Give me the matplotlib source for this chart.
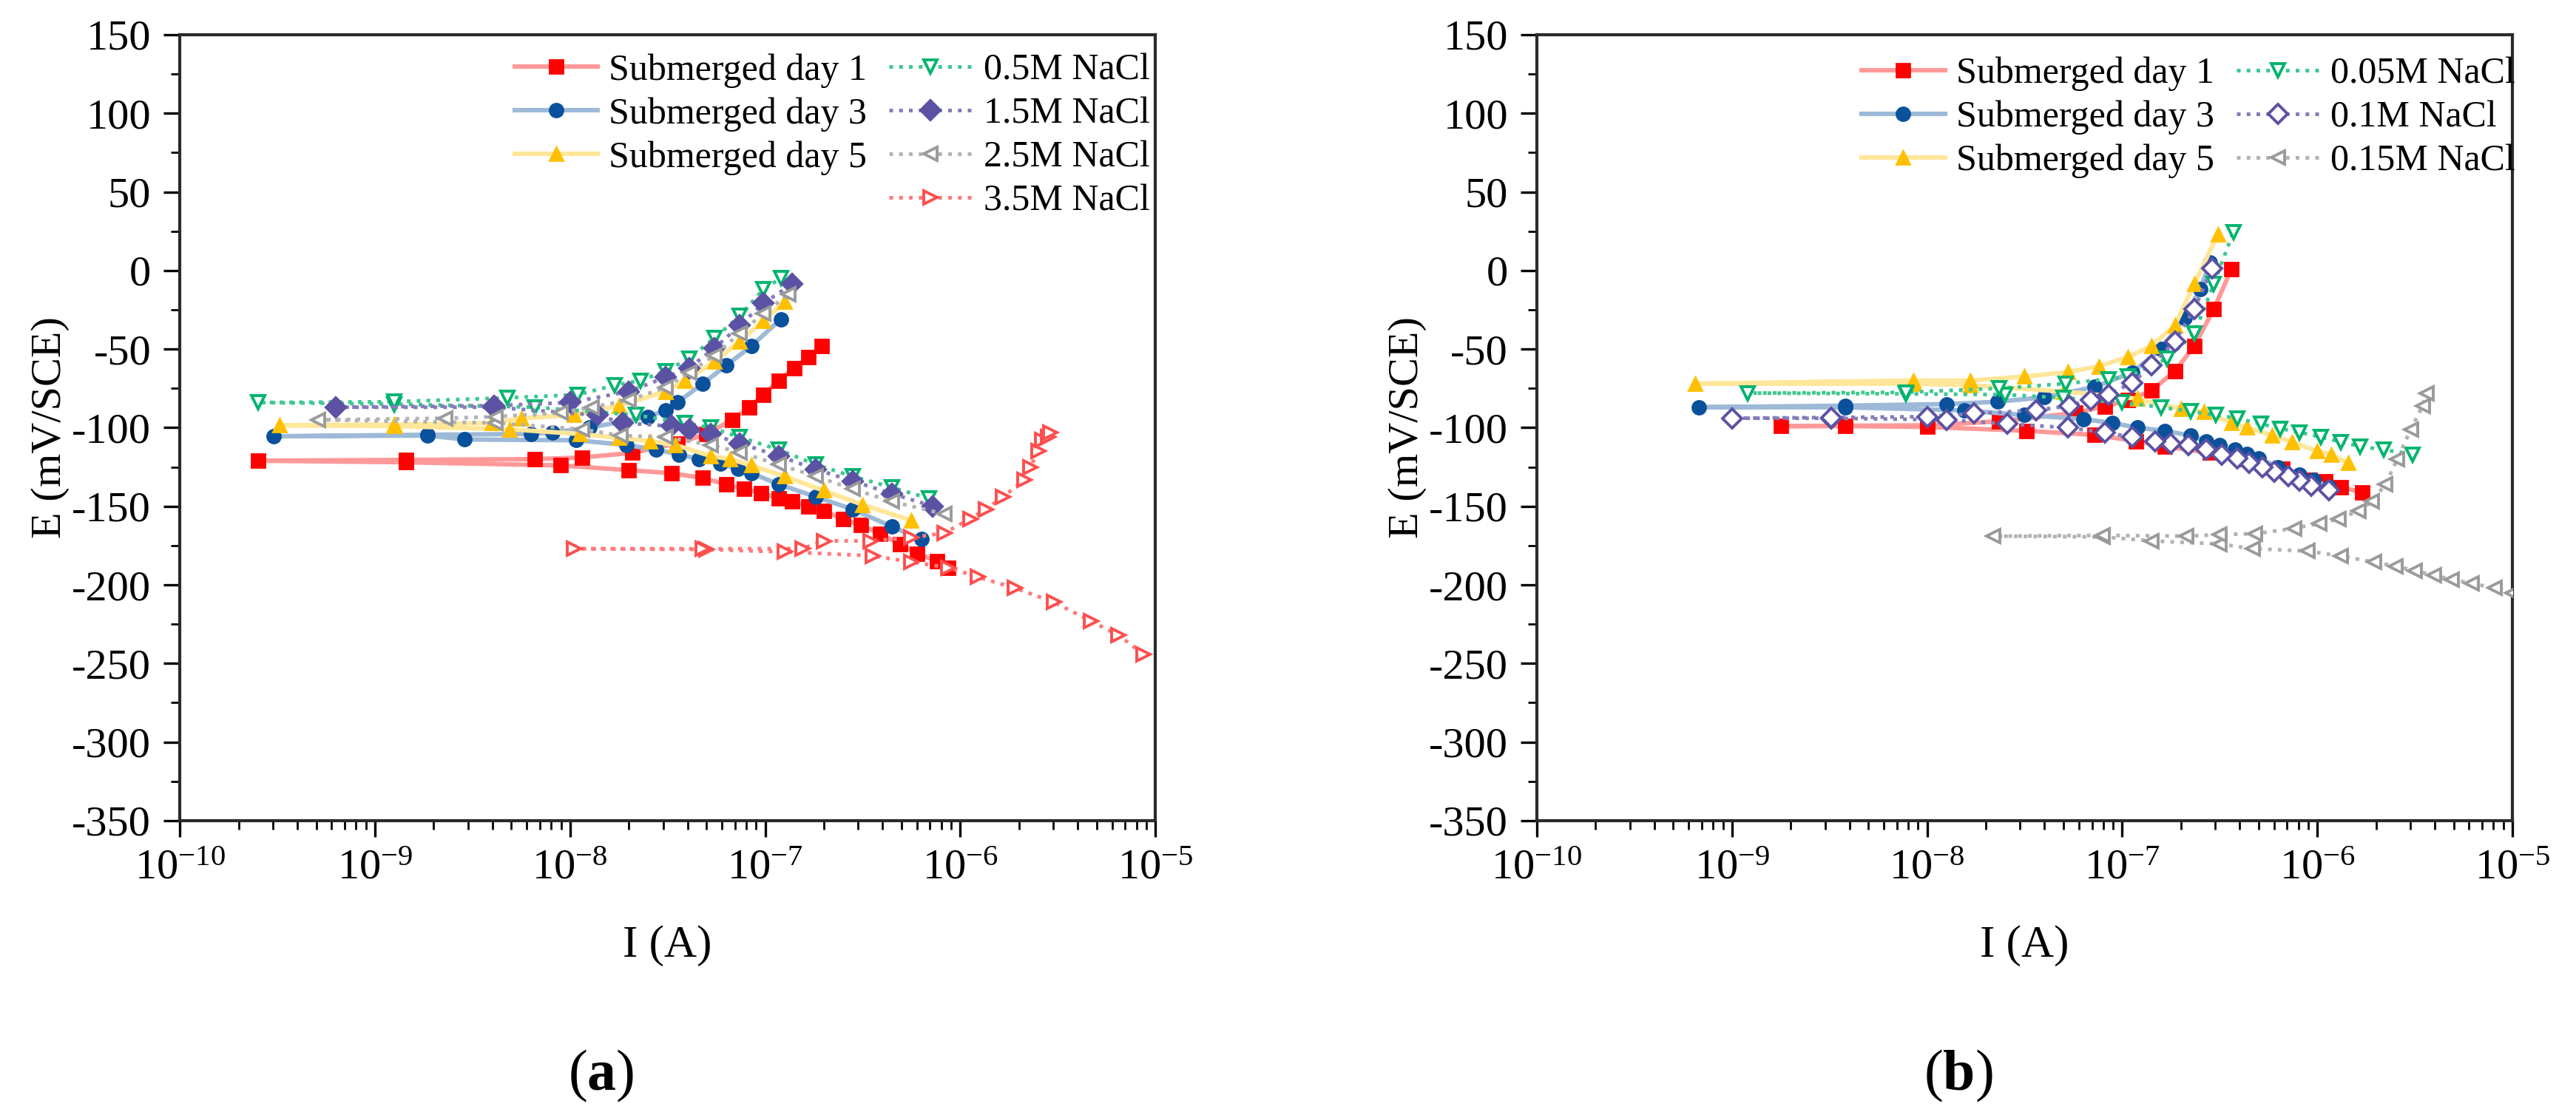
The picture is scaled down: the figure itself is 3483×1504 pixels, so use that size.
#!/usr/bin/env python
"""
Tafel curves: submerged days vs NaCl concentration, panels (a) and (b)
"""
import numpy as np
import matplotlib
matplotlib.use("Agg")
import matplotlib.pyplot as plt
from matplotlib import colors
from matplotlib.lines import Line2D
from matplotlib.ticker import MultipleLocator, LogLocator, NullFormatter

# each curve runs from the cathodic end, through Ecorr (left tip), up the
# anodic branch.  log10(I / A) and E (mV/SCE)

# ---- panel (a) ----
day1_a_logI = [-6.06, -6.12, -6.22, -6.31, -6.41, -6.51, -6.60, -6.70, -6.78,
               -6.86, -6.93, -7.02, -7.11, -7.20, -7.32, -7.48, -7.70, -8.05,
               -8.84, -9.60, -8.84, -8.18, -7.94, -7.68, -7.45, -7.30, -7.17,
               -7.08, -7.01, -6.93, -6.85, -6.78, -6.71]
day1_a_E = [-189, -185, -180, -174, -167.5, -162, -158, -153, -150,
            -147, -145, -141.5, -139, -136, -132, -129, -127, -124,
            -122, -121, -120.5, -120, -119, -116, -110, -104, -95,
            -87, -79, -70, -62, -55, -48]

day3_a_logI = [-6.20, -6.35, -6.55, -6.74, -6.93, -7.07, -7.14, -7.23, -7.34,
               -7.44, -7.56, -7.71, -7.97, -8.54, -8.73, -9.52, -8.73, -8.20,
               -8.09, -7.90, -7.60, -7.51, -7.45, -7.32, -7.20, -7.07, -6.92]
day3_a_E = [-171, -163, -152, -144, -136, -129, -126, -123, -120,
            -117, -114, -111, -108, -107.5, -105, -105.5, -104.5, -104,
            -103, -100, -93, -89, -84, -72, -60.5, -48, -31]

day5_a_logI = [-6.25, -6.50, -6.70, -6.90, -7.07, -7.18, -7.28, -7.46, -7.59,
               -7.75, -7.95, -8.31, -8.90, -9.49, -8.90, -8.40, -8.25, -7.98,
               -7.75, -7.51, -7.41, -7.26, -7.13, -7.01, -6.90]
day5_a_E = [-159, -149, -140, -131, -124, -120, -118, -111, -108.5,
            -106.5, -104, -101, -99, -98.5, -98, -97, -94, -92,
            -86, -77, -70, -58, -45, -32, -20]

nacl05_logI = [-6.16, -6.35, -6.55, -6.74, -6.93, -7.13, -7.28, -7.41, -7.66,
               -8.18, -8.90, -9.60, -8.90, -8.32, -7.96, -7.77, -7.64, -7.51,
               -7.39, -7.26, -7.13, -7.01, -6.92]
nacl05_E = [-145, -138, -131, -123.5, -114, -106, -100, -97, -92,
            -87, -85, -84, -83.5, -81, -79, -73, -70, -64,
            -56, -43, -29, -12, -5]

nacl15_logI = [-6.14, -6.35, -6.55, -6.74, -6.93, -7.13, -7.28, -7.39, -7.48,
               -7.73, -7.86, -8.39, -9.20, -8.39, -8.00, -7.70, -7.51, -7.39,
               -7.26, -7.13, -7.01, -6.86]
nacl15_E = [-150, -142, -134, -126.5, -118, -110, -104, -101, -99,
            -97, -92, -87, -87, -86, -84, -77, -68, -62,
            -49.5, -35, -21, -8.5]

nacl25_logI = [-6.08, -6.35, -6.55, -6.74, -6.93, -7.13, -7.28, -7.51, -7.74,
               -7.94, -8.38, -9.29, -8.64, -8.38, -8.05, -7.89, -7.70, -7.51,
               -7.39, -7.26, -7.13, -7.01, -6.88]
nacl25_E = [-155, -147, -139, -131, -123.5, -115.6, -111, -106, -105,
            -101, -97, -95, -94, -93, -90.5, -87, -82.5, -74.5,
            -65, -54, -40, -27.5, -15]

nacl35_logI = [-5.06, -5.19, -5.33, -5.52, -5.72, -5.91, -6.06, -6.25, -6.45,
               -6.90, -7.30, -7.98, -7.32, -6.81, -6.70, -6.46, -6.25, -6.08,
               -5.95, -5.87, -5.78, -5.67, -5.64, -5.60, -5.58, -5.55, -5.54]
nacl35_E = [-244, -232, -223, -211, -202, -195, -189, -185.5, -181.5,
            -179, -177.5, -177, -177, -177, -172, -172, -170, -167,
            -158, -152, -144, -133, -125, -115, -108, -106, -103]

# ---- panel (b) ----
day1_b_logI = [-5.77, -5.88, -5.96, -6.04, -6.18, -6.36, -6.55, -6.78, -6.93,
               -7.14, -7.49, -8.00, -8.42, -8.75, -8.00, -7.63, -7.24, -7.09,
               -6.97, -6.85, -6.73, -6.63, -6.53, -6.44]
day1_b_E = [-141, -138, -134, -133, -126, -120, -116, -112, -108.5,
            -104.6, -102, -99.5, -99, -99, -98.5, -96, -90.6, -86.5,
            -82.5, -76.5, -64, -48, -24.5, 1]

day3_b_logI = [-5.94, -6.02, -6.09, -6.20, -6.30, -6.36, -6.42, -6.50, -6.57,
               -6.65, -6.78, -6.92, -7.05, -7.20, -7.50, -7.81, -8.42, -9.17,
               -8.42, -7.90, -7.64, -7.40, -7.14, -6.95, -6.80, -6.68, -6.60,
               -6.55]
day3_b_E = [-138, -133, -130, -125, -119.5, -116.5, -114, -111, -108.5,
            -105, -102, -100, -97, -94.5, -92, -89, -87, -87,
            -86, -85, -83.5, -80.7, -74, -65, -50, -30, -12,
            5]

day5_b_logI = [-5.84, -5.93, -6.00, -6.13, -6.23, -6.36, -6.44, -6.58, -6.70,
               -6.92, -7.30, -7.78, -8.07, -9.19, -8.07, -7.78, -7.50, -7.28,
               -7.12, -6.97, -6.85, -6.73, -6.63, -6.51]
day5_b_E = [-122.6, -117, -115, -109, -105, -100, -97, -90, -88,
            -81.6, -77, -73, -72, -72, -70, -70, -67.5, -64.6,
            -61, -55, -48, -35, -8.6, 23]

nacl005_logI = [-5.51, -5.66, -5.78, -5.88, -5.98, -6.09, -6.19, -6.29, -6.41,
                -6.52, -6.65, -6.80, -7.00, -7.30, -7.60, -8.11, -8.92, -8.11,
                -7.63, -7.29, -7.07, -6.97, -6.77, -6.63, -6.53, -6.43]
nacl005_E = [-117, -114, -112, -109, -106, -103, -100.5, -97.6, -94,
             -92, -89.6, -87, -84, -81, -79, -78.5, -78, -77.5,
             -75, -72, -69, -67.5, -56, -40, -8.6, 24.5]

nacl01_logI = [-5.94, -6.03, -6.09, -6.15, -6.22, -6.28, -6.35, -6.41, -6.49,
               -6.57, -6.66, -6.75, -6.83, -6.95, -7.09, -7.28, -7.59, -7.90,
               -8.49, -9.00, -8.49, -8.00, -7.76, -7.44, -7.27, -7.16, -7.07,
               -6.95, -6.85, -6.73, -6.63, -6.54]
nacl01_E = [-140, -137, -133.5, -131, -128, -125, -122.6, -119.5, -117,
            -114, -111, -110, -108.5, -106, -103, -100, -97.6, -95,
            -94, -94, -93.5, -93, -91, -89, -86, -82.5, -79,
            -71.5, -60.5, -45, -24.5, 1.4]

nacl015_logI = [-5.00, -5.09, -5.21, -5.31, -5.40, -5.50, -5.60, -5.71, -5.88,
                -6.05, -6.33, -6.50, -6.85, -7.10, -7.66, -7.10, -6.67, -6.50,
                -6.32, -6.12, -5.99, -5.89, -5.79, -5.72, -5.65, -5.59, -5.52,
                -5.46, -5.44]
nacl015_E = [-205, -202, -199, -196.6, -194, -191, -188, -185.5, -181.6,
             -178.5, -177, -174, -172, -169.5, -169, -168.5, -169, -168,
             -167.5, -164, -161, -158, -153, -147, -136, -120, -101,
             -86, -78]

RED = "#ff0000"
BLUE = "#0a519c"
YELLOW = "#ffc000"
GREEN = "#00b46e"
PURPLE = "#5c52a3"
GREY = "#9a9a9a"
PINK = "#ff4d4d"


def pale(c, f):
    r, g, b = colors.to_rgb(c)
    return (1 - f * (1 - r), 1 - f * (1 - g), 1 - f * (1 - b))


def plot_day(ax, logI, E, c, marker, label):
    ax.plot(10.0 ** np.array(logI), E, ls='-', lw=2.2, color=pale(c, 0.4),
            marker=marker, ms=6.5, mfc=c, mec=c, label=label, zorder=2)


def plot_nacl(ax, logI, E, c, marker, label, filled=False):
    fc = c if filled else 'white'
    ax.plot(10.0 ** np.array(logI), E, ls=':', lw=1.8, color=pale(c, 0.75),
            marker=marker, ms=6.5, mfc=fc, mec=c, mew=1.4, label=label,
            zorder=3)


def style_axes(ax):
    ax.set_xscale('log')
    ax.set_xlim(1e-10, 1e-5)
    ax.set_ylim(-350, 150)
    ax.set_yticks(np.arange(-350, 151, 50))
    ax.yaxis.set_minor_locator(MultipleLocator(25))
    ax.xaxis.set_major_locator(LogLocator(base=10, numticks=12))
    ax.xaxis.set_minor_locator(LogLocator(base=10, subs=np.arange(2, 10),
                                          numticks=12))
    ax.xaxis.set_minor_formatter(NullFormatter())
    ax.tick_params(which='major', direction='out', length=8, width=1.2,
                   labelsize=21, pad=6, top=False, right=False)
    ax.tick_params(which='minor', direction='out', length=4.3, width=1.0,
                   top=False, right=False)
    for s in ax.spines.values():
        s.set_linewidth(1.5)
        s.set_color('#2a2a2a')
    ax.set_xlabel("I (A)", fontsize=22, labelpad=18)


def main():
    plt.rcParams['font.family'] = 'serif'
    plt.rcParams['font.serif'] = ['Liberation Serif', 'DejaVu Serif']
    plt.rcParams['mathtext.fontset'] = 'custom'
    plt.rcParams['mathtext.rm'] = 'Liberation Serif'
    plt.rcParams['mathtext.it'] = 'Liberation Serif:italic'
    plt.rcParams['mathtext.bf'] = 'Liberation Serif:bold'
    plt.rcParams['axes.unicode_minus'] = False

    fig = plt.figure(figsize=(17.415, 7.52), dpi=200)
    axa = fig.add_axes([0.0698, 0.262, 0.3787, 0.7068])
    axb = fig.add_axes([0.5966, 0.262, 0.3787, 0.7068])

    # (a)
    plot_day(axa, day1_a_logI, day1_a_E, RED, 's', "Submerged day 1")
    plot_day(axa, day3_a_logI, day3_a_E, BLUE, 'o', "Submerged day 3")
    plot_day(axa, day5_a_logI, day5_a_E, YELLOW, '^', "Submerged day 5")
    plot_nacl(axa, nacl05_logI, nacl05_E, GREEN, 'v', "0.5M NaCl")
    plot_nacl(axa, nacl15_logI, nacl15_E, PURPLE, 'D', "1.5M NaCl",
              filled=True)
    plot_nacl(axa, nacl25_logI, nacl25_E, GREY, '<', "2.5M NaCl")
    plot_nacl(axa, nacl35_logI, nacl35_E, PINK, '>', "3.5M NaCl")
    style_axes(axa)

    h, l = axa.get_legend_handles_labels()
    blank = Line2D([], [], ls='none', marker=None)
    h = h[:3] + [blank] + h[3:]
    l = l[:3] + [''] + l[3:]
    axa.legend(h, l, loc='upper left', bbox_to_anchor=(0.343, 0.976),
               ncol=2, frameon=False, fontsize=18, handlelength=2.25,
               handletextpad=0.3, columnspacing=0.6, labelspacing=0.25,
               borderpad=0, borderaxespad=0)

    # (b)
    plot_day(axb, day1_b_logI, day1_b_E, RED, 's', "Submerged day 1")
    plot_day(axb, day3_b_logI, day3_b_E, BLUE, 'o', "Submerged day 3")
    plot_day(axb, day5_b_logI, day5_b_E, YELLOW, '^', "Submerged day 5")
    plot_nacl(axb, nacl005_logI, nacl005_E, GREEN, 'v', "0.05M NaCl")
    plot_nacl(axb, nacl01_logI, nacl01_E, PURPLE, 'D', "0.1M NaCl")
    plot_nacl(axb, nacl015_logI, nacl015_E, GREY, '<', "0.15M NaCl")
    style_axes(axb)
    axb.legend(loc='upper left', bbox_to_anchor=(0.333, 0.972),
               ncol=2, frameon=False, fontsize=18, handlelength=2.25,
               handletextpad=0.3, columnspacing=0.6, labelspacing=0.25,
               borderpad=0, borderaxespad=0)

    # y labels placed by hand, close to the left edge as in the original
    ymid = 1 - 578 / 1504
    fig.text(68 / 3483, ymid, "E (mV/SCE)", fontsize=21, rotation=90,
             ha='center', va='center')
    fig.text(1903 / 3483, ymid, "E (mV/SCE)", fontsize=21, rotation=90,
             ha='center', va='center')

    fig.text(813 / 3483, 1 - 1455 / 1504, r"($\mathbf{a}$)", fontsize=28,
             ha='center', va='center')
    fig.text(2648 / 3483, 1 - 1455 / 1504, r"($\mathbf{b}$)", fontsize=28,
             ha='center', va='center')

    fig.savefig("out.png", dpi=200)


if __name__ == "__main__":
    main()
